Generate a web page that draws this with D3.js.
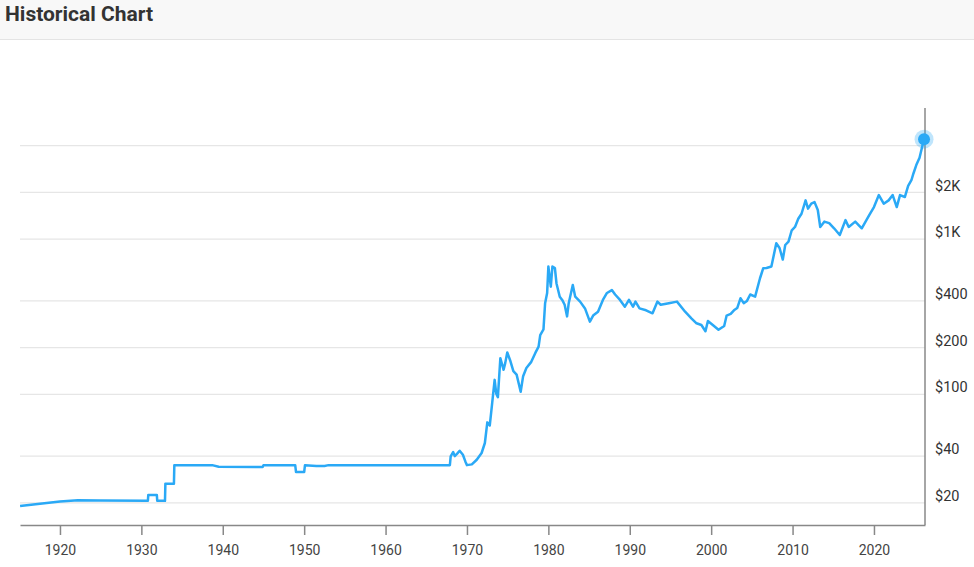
<!DOCTYPE html>
<html>
<head>
<meta charset="utf-8">
<script src="https://cdn.jsdelivr.net/npm/d3@7"></script>
<style>
  body { margin: 0; background: #fff; font-family: Roboto, "Noto Sans", sans-serif; }
  #header { height: 40px; background: #f8f8f8; border-bottom: 1px solid #e4e4e4; box-sizing: border-box; }
  #header h2 { margin: 0; padding: 1px 0 0 5px; font-size: 21px; font-weight: bold; color: #333; line-height: 26px; }
</style>
</head>
<body>
<div id="header"><h2>Historical Chart</h2></div>
<div id="vis-container"></div>
<script>
'use strict';

// gold price (decimal year, USD)
const years = [1915.1, 1917, 1920.0, 1922.2, 1925, 1930.8, 1930.85, 1931.9, 1931.95, 1932.9, 1932.95, 1934.0, 1934.05,
  1938.7, 1939.5, 1944.9, 1945.0, 1948.9, 1949.0, 1950.0, 1950.1, 1951.5, 1952.5, 1953, 1967.9,
  1968.0, 1968.3, 1968.5, 1968.8, 1969.1, 1969.5, 1969.8, 1970.0, 1970.6, 1971.2, 1971.8, 1972.2, 1972.5, 1972.8,
  1973.1, 1973.4, 1973.6, 1973.8, 1974.1, 1974.5, 1974.7, 1974.95, 1975.3, 1975.7, 1976.1, 1976.6, 1976.9,
  1977.3, 1977.9, 1978.4, 1978.8, 1979.0, 1979.4, 1979.6, 1979.85, 1980.0, 1980.3, 1980.5, 1980.8, 1981.0,
  1981.4, 1981.7, 1982.0, 1982.3, 1982.5, 1983.0, 1983.3, 1983.9, 1984.5, 1985.1, 1985.5, 1986.1, 1986.7,
  1987.2, 1987.8, 1988.2, 1988.8, 1989.4, 1989.9, 1990.4, 1990.7, 1991.2, 1992.0, 1992.8, 1993.4, 1993.8,
  1994.8, 1995.8, 1996.8, 1997.6, 1998.2, 1998.8, 1999.3, 1999.6, 2000.2, 2000.9, 2001.6, 2001.9,
  2002.4, 2002.8, 2003.2, 2003.6, 2004.0, 2004.4, 2004.8, 2005.4,
  2006.0, 2006.4, 2006.8, 2007.4, 2008.0, 2008.4, 2008.8, 2009.1, 2009.5, 2009.9, 2010.3, 2010.7, 2011.1,
  2011.6, 2011.9, 2012.3, 2012.7, 2013.1, 2013.4, 2013.9, 2014.5, 2015.1, 2015.8, 2016.5, 2016.9, 2017.7,
  2018.5, 2019.4, 2020.0, 2020.6, 2021.2, 2021.8, 2022.3, 2022.8, 2023.2, 2023.8, 2024.2, 2024.6, 2024.85,
  2025.2, 2025.6, 2025.9, 2026.15]

const prices = [19.1, 19.6, 20.4, 20.8, 20.7, 20.6, 22.5, 22.5, 20.6, 20.6, 26.6, 26.6, 35.0,
  35.0, 34.2, 34.0, 35.0, 35.0, 31.6, 31.6, 35.0, 34.6, 34.6, 35, 35,
  39.9, 42.5, 40, 41.5, 43.3, 40.8, 37, 35.0, 35.4, 37.9, 41.9, 48.6, 66, 63,
  88, 124, 101, 96, 171, 144, 159, 186, 166, 141, 134, 104, 131,
  148, 162, 185, 203, 241, 262, 387, 450, 667, 494, 667, 652, 518,
  426, 406, 378, 318, 387, 506, 426, 396, 358, 294, 322, 341, 406,
  450, 470, 440, 406, 367, 406, 367, 396, 358, 348, 333, 396, 378,
  387, 396, 341, 308, 287, 280, 255, 297, 280, 261, 276, 322,
  330, 348, 360, 416, 387, 400, 440, 426,
  560, 650, 652, 667, 941, 877, 739, 917, 964, 1141, 1198, 1354, 1458,
  1778, 1573, 1693, 1733, 1541, 1198, 1297, 1268, 1175, 1064, 1327, 1198, 1297,
  1175, 1422, 1610, 1924, 1693, 1778, 1924, 1610, 1924, 1870, 2206, 2397, 2650,
  3000, 3350, 3900, 4410]

const gridValues = [20, 40, 100, 200, 400, 1000, 2000, 4000]
const labelValues = [20, 40, 100, 200, 400, 1000, 2000]
const labelText = ['$20', '$40', '$100', '$200', '$400', '$1K', '$2K']
const yearTicks = [1920, 1930, 1940, 1950, 1960, 1970, 1980, 1990, 2000, 2010, 2020]

const m = {
  width: 974,
  height: 527,
  left: 20,
  right: 925,
  top: 68,
  bottom: 485
}

const lineColor = '#2aa9f6'

let svg = d3.select('#vis-container')
  .append('svg')
  .attr('width', m.width)
  .attr('height', m.height)
  .style('display', 'block')

let xScale = d3.scaleLinear()
  .domain([1915.09, 2026.27])
  .range([m.left, m.right])

let yScale = d3.scaleLog()
  .domain([14.4, 7000])
  .range([m.bottom, m.top])

// grid lines
svg.append('g')
  .selectAll('line')
  .data(gridValues)
  .enter()
  .append('line')
    .attr('x1', m.left)
    .attr('x2', m.right)
    .attr('y1', (d) => yScale(d))
    .attr('y2', (d) => yScale(d))
    .style('stroke', '#e6e6e6')
    .style('stroke-width', 1.2)

// y labels sit a bit above their grid line
svg.append('g')
  .selectAll('text')
  .data(labelValues)
  .enter()
  .append('text')
    .attr('x', m.right + 10)
    .attr('y', (d) => yScale(d) - 7)
    .attr('dy', '0.35em')
    .style('font-size', '14.5px')
    .style('fill', '#333')
    .text((d, i) => labelText[i])

// right axis line
svg.append('line')
  .attr('x1', m.right)
  .attr('x2', m.right)
  .attr('y1', m.top)
  .attr('y2', m.bottom)
  .style('stroke', '#888')
  .style('stroke-width', 1.5)

// bottom axis
let xAxis = d3.axisBottom(xScale)
  .tickValues(yearTicks)
  .tickFormat(d3.format('d'))
  .tickSize(10)
  .tickSizeOuter(0)

let gx = svg.append('g')
  .attr('transform', 'translate(0, ' + m.bottom + ')')
  .call(xAxis)
gx.select('.domain').style('stroke', '#888').style('stroke-width', 1.5)
gx.selectAll('.tick line').style('stroke', '#888').style('stroke-width', 1.5)
gx.selectAll('.tick text')
  .attr('y', 20)
  .style('font-family', 'Roboto, sans-serif')
  .style('font-size', '14px')
  .style('fill', '#444')

// price line
let points = years.map((y, i) => [y, prices[i]])
let line = d3.line()
  .x((d) => xScale(d[0]))
  .y((d) => yScale(d[1]))

svg.append('path')
  .datum(points)
  .attr('d', line)
  .style('fill', 'none')
  .style('stroke', lineColor)
  .style('stroke-width', 2.5)
  .style('stroke-linejoin', 'round')

// last point marker
let last = points[points.length - 1]
svg.append('circle')
  .attr('cx', xScale(last[0]))
  .attr('cy', yScale(last[1]))
  .attr('r', 9.5)
  .style('fill', lineColor)
  .style('opacity', 0.3)
svg.append('circle')
  .attr('cx', xScale(last[0]))
  .attr('cy', yScale(last[1]))
  .attr('r', 6)
  .style('fill', lineColor)
</script>
</body>
</html>
